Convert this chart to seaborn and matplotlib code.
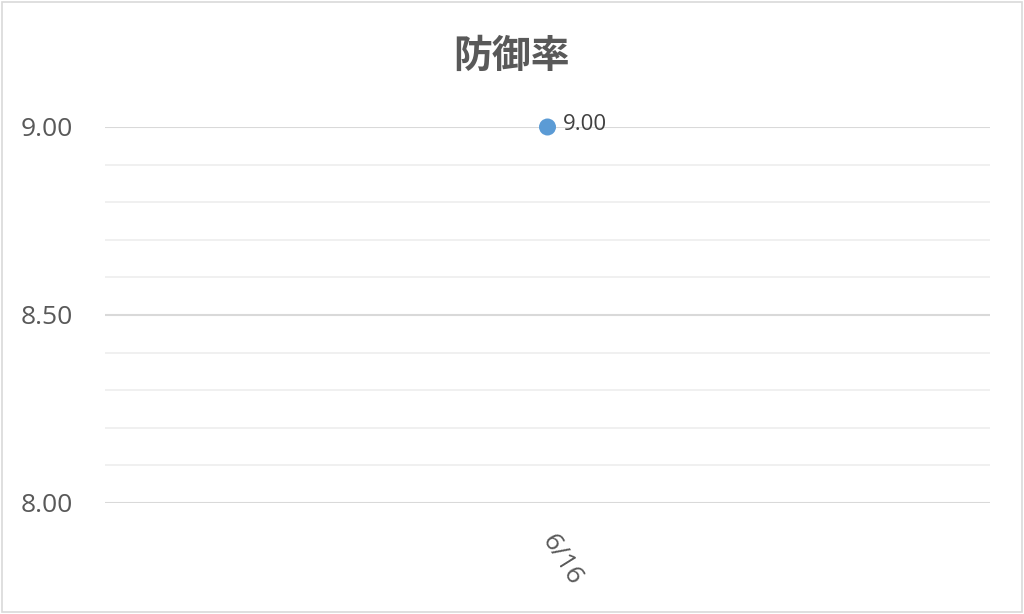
import matplotlib
matplotlib.use("Agg")
import matplotlib.pyplot as plt
import seaborn as sns
import pandas as pd
from matplotlib.patches import Rectangle
from matplotlib.ticker import MultipleLocator, FormatStrFormatter

# Data
dates = ["6/16"]
era = [9.00]
title = "防御率"

df = pd.DataFrame({"date": dates, "era": era})

sns.set_theme(style="white")
plt.rcParams['font.family'] = ['Open Sans', 'Noto Sans CJK JP', 'DejaVu Sans']

fig = plt.figure(figsize=(10.24, 6.14), dpi=100)
ax = fig.add_axes([105 / 1024, 1 - 503 / 614, 885 / 1024, 376 / 614])

sns.scatterplot(data=df, x="date", y="era", ax=ax, s=150, color="#5B9BD5",
                edgecolor="none", zorder=5, clip_on=False)

for i, v in enumerate(era):
    ax.annotate(f"{v:.2f}", (i, v), xytext=(11, 2), textcoords="offset points",
                fontsize=16, color="#404040", va="center", ha="left")

ax.set_xlim(-0.5, len(dates) - 0.5)
ax.set_ylim(8.0, 9.0)
ax.yaxis.set_major_locator(MultipleLocator(0.5))
ax.yaxis.set_minor_locator(MultipleLocator(0.1))
ax.yaxis.set_major_formatter(FormatStrFormatter("%.2f"))

ax.grid(which="major", axis="y", color="#D9D9D9", linewidth=1.5)
ax.grid(which="minor", axis="y", color="#EFEFEF", linewidth=1.3)
ax.set_axisbelow(True)
for s in ax.spines.values():
    s.set_visible(False)

ax.tick_params(axis="y", which="both", length=0, labelsize=19, labelcolor="#595959", pad=23)
ax.tick_params(axis="x", length=0, labelsize=19, labelcolor="#595959", pad=24)
plt.setp(ax.get_xticklabels(), rotation=-58, ha="left", va="center", rotation_mode="anchor")
ax.set_xlabel("")
ax.set_ylabel("")

fig.text(0.5, 1 - 56 / 614, title, ha="center", va="center", fontsize=28,
         fontweight="bold", color="#595959", family=['Noto Sans CJK JP', 'DejaVu Sans'])

fig.patches.append(Rectangle((0.002, 0.003), 0.996, 0.994, transform=fig.transFigure,
                             fill=False, edgecolor="#D9D9D9", linewidth=1.2))

fig.savefig("out.png", dpi=100)
